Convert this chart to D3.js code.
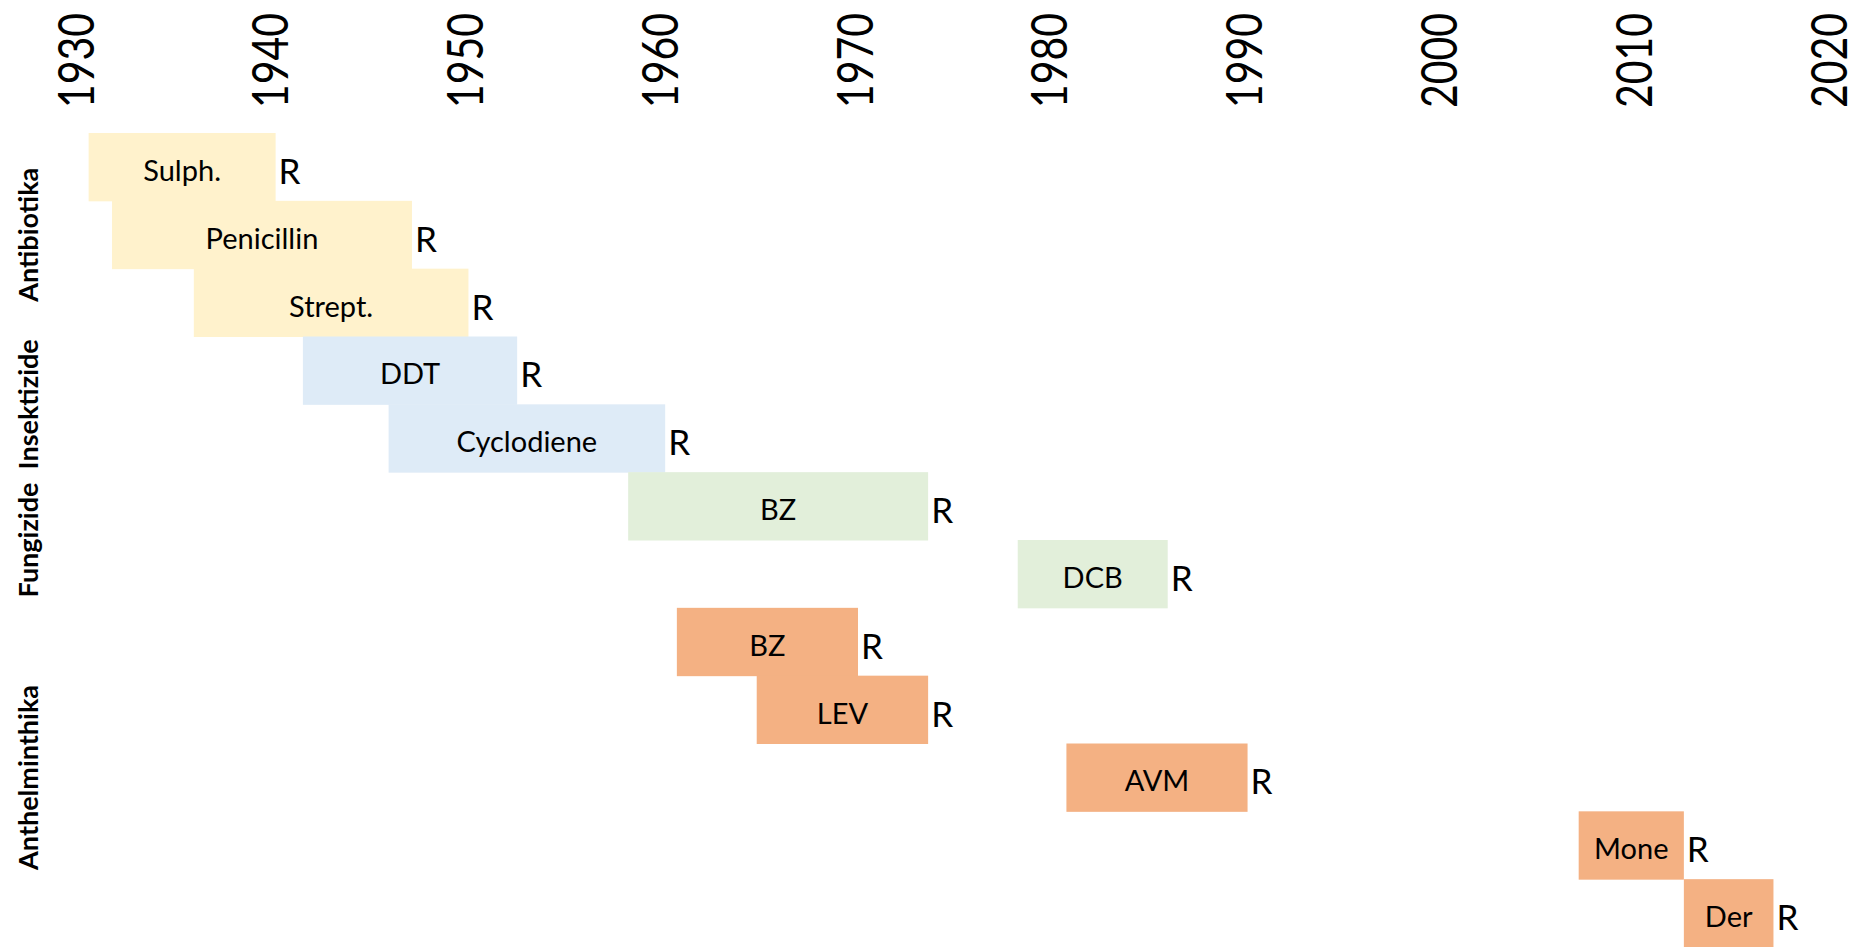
<!DOCTYPE html>
<html>
<head>
<meta charset="utf-8">
<script src="https://cdn.jsdelivr.net/npm/d3@7"></script>
<style>
  html, body { margin: 0; padding: 0; background: #fff; }
  svg { display: block; font-family: Lato, "Open Sans", sans-serif; }
</style>
</head>
<body>
<div id="chart"></div>
<script>
// Wirkstoffe, Einführung und erste Resistenz (Jahr)
const drugs = ["Sulph.", "Penicillin", "Strept.", "DDT", "Cyclodiene", "BZ", "DCB", "BZ", "LEV", "AVM", "Mone", "Der"];
const classes = ["Antibiotika", "Antibiotika", "Antibiotika", "Insektizide", "Insektizide",
                 "Fungizide", "Fungizide", "Anthelminthika", "Anthelminthika", "Anthelminthika",
                 "Anthelminthika", "Anthelminthika"];
const introYear = [1930.7, 1931.9, 1936.1, 1941.7, 1946.1, 1958.4, 1978.4, 1960.9, 1965.0, 1980.9, 2007.2, 2012.6];
const resistYear = [1940.3, 1947.3, 1950.2, 1952.7, 1960.3, 1973.8, 1986.1, 1970.2, 1973.8, 1990.2, 2012.6, 2017.2];
const groups = ["Antibiotika", "Insektizide", "Fungizide", "Anthelminthika"];
const groupColors = ["#fff2cc", "#deebf7", "#e2efda", "#f4b183"];
const yearTicks = [1930, 1940, 1950, 1960, 1970, 1980, 1990, 2000, 2010, 2020];

const width = 1857;
const height = 947;
const marginTop = 133;
const marginLeft = 75;
const marginRight = 29;

const data = drugs.map((d, i) => ({
  idx: i, name: d, cls: classes[i], start: introYear[i], end: resistYear[i]
}));

const x = d3.scaleLinear()
    .domain([1930, 2020])
    .range([marginLeft, width - marginRight]);

const y = d3.scaleBand()
    .domain(data.map(d => d.idx))
    .range([marginTop, height])
    .padding(0);

const color = d3.scaleOrdinal()
    .domain(groups)
    .range(groupColors);

const svg = d3.select("#chart").append("svg")
    .attr("width", width)
    .attr("height", height)
    .attr("viewBox", [0, 0, width, height]);

// Jahresachse oben, senkrechte Beschriftung (schmal gestaucht wie Gill Sans)
const squeeze = 0.82;
const xAxis = svg.append("g")
    .call(d3.axisTop(x).tickValues(yearTicks).tickFormat(d3.format("d")).tickSize(0))
    .call(g => g.select(".domain").remove());

xAxis.selectAll(".tick text")
    .attr("transform", `rotate(-90) scale(${squeeze},1)`)
    .attr("x", -13 / squeeze)
    .attr("y", 0)
    .attr("dy", "0.36em")
    .attr("text-anchor", "end")
    .attr("font-family", "Lato, sans-serif")
    .attr("font-size", 50)
    .attr("fill", "#000");

// Balken
svg.append("g")
  .selectAll("rect")
  .data(data)
  .join("rect")
    .attr("x", d => x(d.start))
    .attr("y", d => y(d.idx))
    .attr("width", d => x(d.end) - x(d.start))
    .attr("height", y.bandwidth() + 0.5)
    .attr("fill", d => color(d.cls));

// Namen in den Balken
svg.append("g")
  .selectAll("text")
  .data(data)
  .join("text")
    .attr("x", d => (x(d.start) + x(d.end)) / 2)
    .attr("y", d => y(d.idx) + y.bandwidth() / 2 + 14)
    .attr("text-anchor", "middle")
    .attr("font-size", 29)
    .attr("fill", "#000")
    .text(d => d.name);

// "R" = Resistenz
svg.append("g")
  .selectAll("text")
  .data(data)
  .join("text")
    .attr("x", d => x(d.end) + 3)
    .attr("y", d => y(d.idx) + y.bandwidth() / 2 + 17)
    .attr("font-size", 35)
    .attr("fill", "#000")
    .text("R");

// Gruppenbeschriftung links
const groupRows = groups.map(g => {
  const rows = data.filter(d => d.cls === g);
  const top = y(rows[0].idx);
  const bottom = y(rows[rows.length - 1].idx) + y.bandwidth();
  return { name: g, mid: (top + bottom) / 2 };
});

svg.append("g")
  .selectAll("text")
  .data(groupRows)
  .join("text")
    .attr("transform", d => `translate(38,${d.mid}) rotate(-90)`)
    .attr("text-anchor", "middle")
    .attr("font-size", 27)
    .attr("font-weight", "bold")
    .attr("fill", "#000")
    .text(d => d.name);
</script>
</body>
</html>
